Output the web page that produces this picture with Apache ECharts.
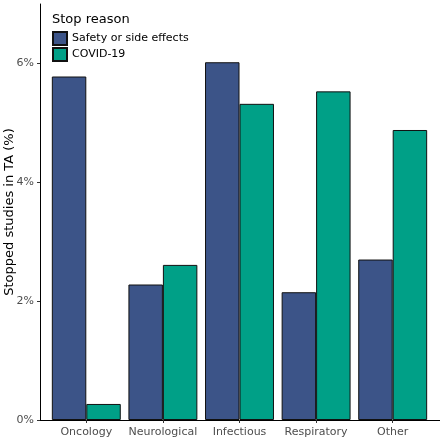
<!DOCTYPE html>
<html>
<head>
<meta charset="utf-8">
<script src="https://cdn.jsdelivr.net/npm/echarts@6/dist/echarts.min.js"></script>
<style>html,body{margin:0;padding:0;background:#fff}#c{width:440px;height:440px}</style>
</head>
<body>
<div id="c"></div>
<script>
var categories = ['Oncology', 'Neurological', 'Infectious', 'Respiratory', 'Other'];
var safety = [5.78, 2.28, 6.02, 2.15, 2.70];
var covid = [0.27, 2.61, 5.32, 5.53, 4.88];
var yTicks = [0, 2, 4, 6];
var seriesNames = ['Safety or side effects', 'COVID-19'];
var legendTitle = 'Stop reason';
var yTitle = 'Stopped studies in TA (%)';

var FONT = 'DejaVu Sans';
var chart = echarts.init(document.getElementById('c'), null, {renderer: 'canvas'});
var yMax = 7;
chart.setOption({
  animation: false,
  backgroundColor: '#ffffff',
  textStyle: {fontFamily: FONT},
  title: {
    text: legendTitle, left: 52, top: 13, padding: 0,
    textStyle: {fontFamily: FONT, fontSize: 13, fontWeight: 'normal', color: '#000'}
  },
  legend: {
    data: seriesNames, orient: 'vertical', left: 52, top: 31, padding: 0,
    itemWidth: 14, itemHeight: 13, itemGap: 1, icon: 'rect',
    textStyle: {fontFamily: FONT, fontSize: 11, color: '#000'}
  },
  grid: [
    {left: 40, right: 0, top: 4, bottom: 20, containLabel: false, outerBoundsMode: 'none'},
    {left: 48, right: 9, top: 4, bottom: 20, containLabel: false, outerBoundsMode: 'none'}
  ],
  xAxis: [
    {type: 'value', gridIndex: 0, min: 0, max: 1,
     axisLine: {show: true, lineStyle: {color: '#000', width: 1}},
     axisTick: {show: false}, axisLabel: {show: false}, splitLine: {show: false}},
    {type: 'category', gridIndex: 1, data: categories,
     axisLine: {show: false},
     axisTick: {show: true, alignWithLabel: true, length: 3, lineStyle: {color: '#333'}},
     axisLabel: {fontFamily: FONT, fontSize: 11, color: '#4d4d4d', margin: 7, interval: 0, hideOverlap: false},
     splitLine: {show: false}}
  ],
  yAxis: [
    {type: 'value', gridIndex: 0, min: 0, max: yMax,
     axisLine: {show: true, lineStyle: {color: '#000', width: 1}},
     axisTick: {show: true, length: 3, lineStyle: {color: '#333'}, customValues: yTicks},
     axisLabel: {fontFamily: FONT, fontSize: 11, color: '#4d4d4d', margin: 6,
                 customValues: yTicks, formatter: '{value}%'},
     splitLine: {show: false},
     name: yTitle, nameLocation: 'middle', nameRotate: 90, nameGap: 24, nameMoveOverlap: false,
     nameTextStyle: {fontFamily: FONT, fontSize: 13, color: '#000'}},
    {type: 'value', gridIndex: 1, min: 0, max: yMax, show: false, splitLine: {show: false}}
  ],
  series: [
    {name: seriesNames[0], type: 'bar', xAxisIndex: 1, yAxisIndex: 1, data: safety,
     barGap: '0%', barCategoryGap: '10%',
     itemStyle: {color: '#3C5488', borderColor: '#111', borderWidth: 1}},
    {name: seriesNames[1], type: 'bar', xAxisIndex: 1, yAxisIndex: 1, data: covid,
     barGap: '0%', barCategoryGap: '10%',
     itemStyle: {color: '#00A087', borderColor: '#111', borderWidth: 1}}
  ]
});
</script>
</body>
</html>
